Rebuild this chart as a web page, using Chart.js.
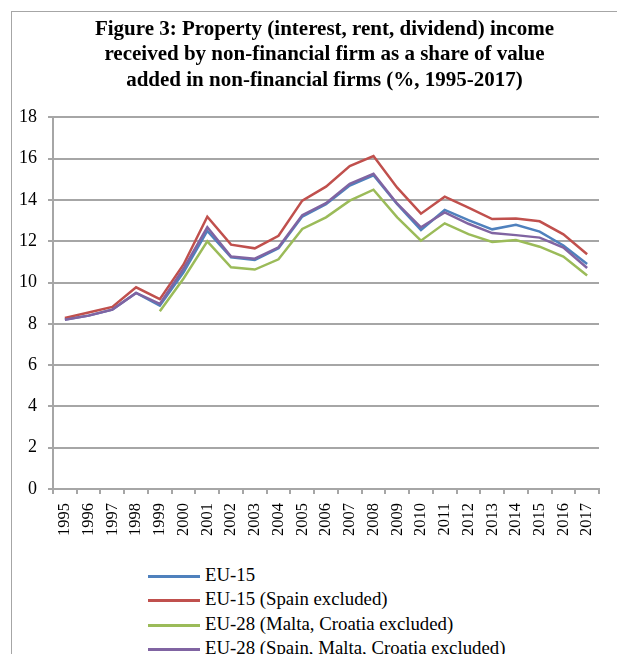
<!DOCTYPE html>
<html>
<head>
<meta charset="utf-8">
<script src="https://cdn.jsdelivr.net/npm/chart.js@4/dist/chart.umd.min.js"></script>
<style>
  body { margin: 0; background: #fff; overflow: hidden; }
  #frame {
    position: absolute; left: 11px; top: 11px;
    width: 700px; height: 700px;
    border: 1px solid #a6a6a6;
  }
  #wrap { position: absolute; left: 12px; top: 12px; width: 625px; height: 545px; }
  #legend {
    position: absolute; left: 148px; top: 563px;
    font-family: 'Liberation Serif', 'Times New Roman', serif;
    font-size: 18.8px; color: #000;
  }
  .item { height: 24.3px; line-height: 24.3px; white-space: nowrap; }
  .swatch { display: inline-block; width: 52px; height: 3px; vertical-align: middle; margin-right: 5px; }
</style>
</head>
<body>
<div id="frame"></div>
<div id="wrap"><canvas id="chart"></canvas></div>
<div id="legend"></div>
<script>
// Values
const years = ['1995', '1996', '1997', '1998', '1999', '2000', '2001', '2002', '2003', '2004', '2005', '2006',
  '2007', '2008', '2009', '2010', '2011', '2012', '2013', '2014', '2015', '2016', '2017'];

const eu15 = [8.21, 8.40, 8.69, 9.50, 8.89, 10.50, 12.50, 11.23, 11.10, 11.66, 13.20, 13.80,
  14.70, 15.20, 13.80, 12.55, 13.52, 13.03, 12.58, 12.80, 12.47, 11.80, 10.90];
const eu15NoSpain = [8.29, 8.55, 8.82, 9.77, 9.20, 10.88, 13.19, 11.84, 11.66, 12.27, 13.97, 14.65,
  15.65, 16.13, 14.60, 13.34, 14.16, 13.63, 13.08, 13.10, 12.97, 12.34, 11.37];
const eu28NoMaltaCroatia = [null, null, null, null, 8.61, 10.20, 12.00, 10.74, 10.63, 11.13, 12.60, 13.16,
  13.97, 14.50, 13.16, 12.03, 12.87, 12.35, 11.97, 12.06, 11.74, 11.26, 10.34];
const eu28NoSpainMaltaCroatia = [8.20, 8.40, 8.69, 9.50, 8.97, 10.68, 12.68, 11.26, 11.16, 11.71, 13.27, 13.85,
  14.79, 15.27, 13.82, 12.68, 13.40, 12.85, 12.40, 12.30, 12.18, 11.70, 10.71];

const seriesNames = ['EU-15', 'EU-15 (Spain excluded)', 'EU-28 (Malta, Croatia excluded)',
  'EU-28 (Spain, Malta, Croatia excluded)'];
const yTicks = [0, 2, 4, 6, 8, 10, 12, 14, 16, 18];

const titleLines = ['Figure 3: Property (interest, rent, dividend) income',
  'received by non-financial firm as a share of value',
  'added in non-financial firms (%, 1995-2017)'];

const colors = ['#4F81BD', '#C0504D', '#9BBB59', '#8064A2'];
const serif = "'Liberation Serif', 'Times New Roman', serif";

function makeDataset(i, data) {
  return {
    label: seriesNames[i],
    data: data,
    borderColor: colors[i],
    backgroundColor: colors[i],
    borderWidth: 2.5,
    pointRadius: 0,
    tension: 0,
    fill: false,
    order: 4 - i  // later series drawn on top, like the original
  };
}

const chart = new Chart(document.getElementById('chart'), {
  type: 'line',
  data: {
    labels: years,
    datasets: [
      makeDataset(0, eu15),
      makeDataset(1, eu15NoSpain),
      makeDataset(2, eu28NoMaltaCroatia),
      makeDataset(3, eu28NoSpainMaltaCroatia)
    ]
  },
  options: {
    responsive: true,
    maintainAspectRatio: false,
    animation: false,
    layout: { padding: 0 },
    plugins: {
      legend: { display: false },
      tooltip: { enabled: false },
      title: {
        display: true,
        text: titleLines,
        color: '#000',
        font: { family: serif, size: 21, weight: 'bold', lineHeight: 1.214 },
        padding: { top: 4.5, bottom: 24.5 }
      }
    },
    scales: {
      x: {
        offset: true,
        grid: { display: true, drawOnChartArea: false, offset: true, color: '#a6a6a6', lineWidth: 2, tickLength: 5 },
        border: { color: '#a6a6a6', width: 2 },
        ticks: {
          color: '#000',
          font: { family: serif, size: 16.5 },
          minRotation: 90, maxRotation: 90,
          autoSkip: false,
          padding: 9
        },
        afterFit: function(scale) { scale.height = 68; }
      },
      y: {
        min: 0,
        max: 18,
        afterBuildTicks: function(scale) { scale.ticks = yTicks.map(v => ({ value: v })); },
        grid: { color: '#a6a6a6', lineWidth: 2, tickLength: 5 },
        border: { color: '#a6a6a6', width: 2 },
        ticks: { color: '#000', font: { family: serif, size: 18 }, padding: 11 },
        afterFit: function(scale) { scale.width = 41; }
      },
      // empty spacer on the right so the title stays centred on the whole frame
      spacer: {
        type: 'linear',
        position: 'right',
        grid: { display: false },
        border: { display: false },
        ticks: { display: false },
        afterFit: function(scale) { scale.width = 38; }
      }
    }
  }
});

// HTML legend, one entry per row
const legendEl = document.getElementById('legend');
chart.data.datasets.forEach(function(ds) {
  const row = document.createElement('div');
  row.className = 'item';
  const sw = document.createElement('span');
  sw.className = 'swatch';
  sw.style.background = ds.borderColor;
  row.appendChild(sw);
  row.appendChild(document.createTextNode(ds.label));
  legendEl.appendChild(row);
});
</script>
</body>
</html>
